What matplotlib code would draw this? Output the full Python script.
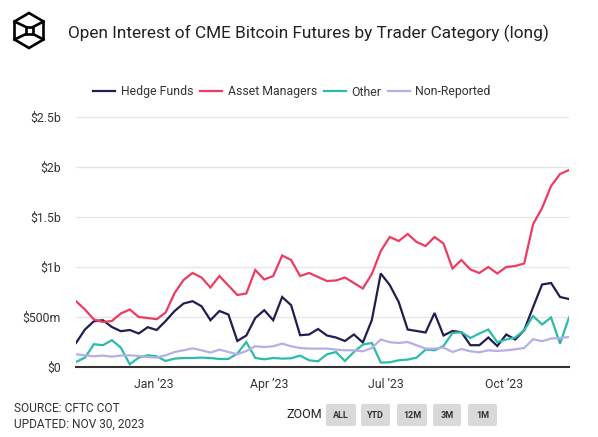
import matplotlib.pyplot as plt
import matplotlib.dates as mdates
from matplotlib.patches import FancyBboxPatch, Polygon, Rectangle
import pandas as pd

# weekly CFTC COT reports, Nov 1 2022 .. Nov 28 2023
dates = pd.date_range("2022-11-01", periods=56, freq="7D")

# values in $ billions
hedge_funds = [0.24, 0.375, 0.458, 0.468, 0.40, 0.358, 0.37, 0.335, 0.398, 0.37,
               0.46, 0.56, 0.635, 0.658, 0.608, 0.468, 0.56, 0.525, 0.26, 0.315,
               0.49, 0.568, 0.468, 0.70, 0.618, 0.318, 0.325, 0.38, 0.315, 0.295,
               0.26, 0.325, 0.245, 0.468, 0.935, 0.82, 0.65, 0.375, 0.36, 0.345,
               0.54, 0.315, 0.36, 0.348, 0.218, 0.218, 0.295, 0.21, 0.325, 0.275,
               0.368, 0.60, 0.825, 0.84, 0.70, 0.68]
asset_managers = [0.658, 0.575, 0.475, 0.45, 0.46, 0.535, 0.575, 0.50, 0.49, 0.478,
                  0.545, 0.74, 0.87, 0.94, 0.895, 0.795, 0.91, 0.815, 0.72, 0.735,
                  0.97, 0.875, 0.91, 1.115, 1.07, 0.91, 0.94, 0.90, 0.86, 0.865,
                  0.895, 0.84, 0.785, 0.93, 1.16, 1.30, 1.26, 1.33, 1.25, 1.21,
                  1.30, 1.235, 0.985, 1.07, 0.975, 0.94, 1.0, 0.935, 1.0, 1.01,
                  1.035, 1.43, 1.59, 1.81, 1.93, 1.97]
other = [0.05, 0.094, 0.228, 0.218, 0.268, 0.194, 0.027, 0.094, 0.117, 0.107,
         0.06, 0.084, 0.09, 0.09, 0.094, 0.09, 0.08, 0.08, 0.134, 0.25,
         0.09, 0.077, 0.09, 0.084, 0.087, 0.114, 0.067, 0.057, 0.127, 0.15,
         0.06, 0.15, 0.224, 0.24, 0.044, 0.047, 0.067, 0.074, 0.094, 0.174,
         0.167, 0.21, 0.34, 0.348, 0.29, 0.335, 0.375, 0.248, 0.275, 0.295,
         0.368, 0.51, 0.425, 0.495, 0.234, 0.495]
non_reported = [0.127, 0.117, 0.107, 0.114, 0.104, 0.114, 0.117, 0.11, 0.10, 0.094,
                0.117, 0.15, 0.167, 0.187, 0.167, 0.144, 0.174, 0.15, 0.127, 0.16,
                0.207, 0.20, 0.207, 0.234, 0.207, 0.19, 0.184, 0.184, 0.184, 0.174,
                0.167, 0.167, 0.157, 0.19, 0.275, 0.248, 0.24, 0.25, 0.217, 0.184,
                0.184, 0.194, 0.15, 0.18, 0.157, 0.147, 0.167, 0.16, 0.167, 0.177,
                0.19, 0.278, 0.258, 0.284, 0.29, 0.30]

series_names = ["Hedge Funds", "Asset Managers", "Other", "Non-Reported"]
series_colors = ["#221d50", "#ef3b62", "#2dbbab", "#b7aee6"]

y_ticks = [0, 0.5, 1, 1.5, 2, 2.5]
y_labels = ["$0", "$500m", "$1b", "$1.5b", "$2b", "$2.5b"]
x_ticks = pd.to_datetime(["2023-01-01", "2023-04-01", "2023-07-01", "2023-10-01"])
x_labels = ["Jan \u201923", "Apr \u201923", "Jul \u201923", "Oct \u201923"]

W, H = 598, 437
plt.rcParams["font.family"] = ["Roboto", "DejaVu Sans"]
fig = plt.figure(figsize=(W / 100, H / 100), dpi=100)

# main plot area (pixel box 76..569 x 117..367)
ax = fig.add_axes([76 / W, 1 - 367 / H, 493 / W, 250 / H])
for vals, name, col in zip([hedge_funds, asset_managers, other, non_reported],
                           series_names, series_colors):
    ax.plot(dates, vals, color=col, lw=1.6, label=name, solid_joinstyle="miter")

ax.set_xlim(dates[0], dates[-1])
ax.set_ylim(0, 2.5)
ax.set_yticks(y_ticks)
ax.set_yticklabels(y_labels)
ax.set_xticks(x_ticks)
ax.set_xticklabels(x_labels)
ax.tick_params(axis="both", length=0, labelsize=8.8, labelcolor="#333333")
ax.tick_params(axis="y", pad=11)
ax.tick_params(axis="x", pad=8)
ax.grid(axis="y", color="#e6e6e6", lw=1)
ax.set_axisbelow(True)
for s in ["top", "right", "left"]:
    ax.spines[s].set_visible(False)
ax.spines["bottom"].set_color("#333333")
ax.spines["bottom"].set_linewidth(1.5)

# legend centred on the figure, not the axes
fig.legend(*ax.get_legend_handles_labels(), loc="center", bbox_to_anchor=(292 / W, 1 - 92 / H),
           ncol=4, frameon=False, fontsize=8.8, labelcolor="#333333", handlelength=1.8,
           handletextpad=0.45, columnspacing=0.55)

# overlay in pixel coordinates for the header / footer decorations
deco = fig.add_axes([0, 0, 1, 1])
deco.set_xlim(0, W)
deco.set_ylim(H, 0)
deco.axis("off")

# logo: hexagon cube
hexagon = [(29, 13), (43.5, 21.5), (43.5, 39.5), (29, 48), (14.5, 39.5), (14.5, 21.5)]
deco.add_patch(Polygon(hexagon, closed=True, fill=False, ec="black", lw=1.9, joinstyle="miter"))
deco.add_patch(Rectangle((26, 27), 7, 7, fill=False, ec="black", lw=1.9))
deco.plot([14.5, 26], [21.5, 27], color="black", lw=1.9)
deco.plot([43.5, 33], [21.5, 27], color="black", lw=1.9)
deco.plot([14.5, 26], [39.5, 34], color="black", lw=1.9)
deco.plot([43.5, 33], [39.5, 34], color="black", lw=1.9)

deco.text(68, 33, "Open Interest of CME Bitcoin Futures by Trader Category (long)",
          fontsize=12.4, color="#222222", va="center", ha="left")

deco.text(14, 408, "SOURCE: CFTC COT", fontsize=8.6, color="#333333", va="center")
deco.text(14, 424, "UPDATED: NOV 30, 2023", fontsize=8.6, color="#333333", va="center")

deco.text(286, 415, "ZOOM", fontsize=9, color="#222222", va="center")
buttons = [("ALL", 325, 357), ("YTD", 360, 391), ("12M", 396, 428), ("3M", 432, 462), ("1M", 467, 498)]
for lbl, x0, x1 in buttons:
    deco.add_patch(FancyBboxPatch((x0 + 1, 404), x1 - x0 - 2, 22,
                                  boxstyle="round,pad=0,rounding_size=2",
                                  fc="#d9d9d9", ec="none"))
    deco.text((x0 + x1) / 2, 415.5, lbl, fontsize=6.5, color="#333333",
              ha="center", va="center", fontweight="bold")

fig.savefig("out.png", dpi=100)
